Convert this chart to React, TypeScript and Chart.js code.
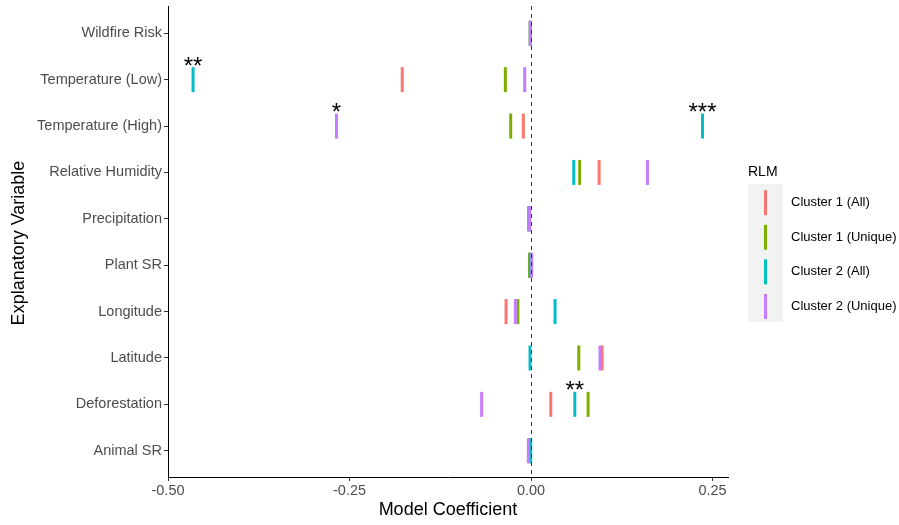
import React, { useEffect, useRef } from "react";
import { Chart, registerables } from "chart.js";

Chart.register(...registerables);

const categories = [
  "Wildfire Risk",
  "Temperature (Low)",
  "Temperature (High)",
  "Relative Humidity",
  "Precipitation",
  "Plant SR",
  "Longitude",
  "Latitude",
  "Deforestation",
  "Animal SR",
];

const seriesNames = ["Cluster 1 (All)", "Cluster 1 (Unique)", "Cluster 2 (All)", "Cluster 2 (Unique)"];
const seriesColors = ["#F8766D", "#7CAE00", "#00BFC4", "#C77CFF"];

const cluster1All = [-0.001, -0.1774, -0.0106, 0.0938, -0.003, -0.001, -0.0344, 0.0978, 0.0272, -0.002];
const cluster1Unique = [-0.001, -0.0354, -0.028, 0.067, -0.003, -0.002, -0.0181, 0.0658, 0.0786, -0.0014];
const cluster2All = [-0.001, -0.4655, 0.2362, 0.0589, -0.002, -0.001, 0.0331, -0.0014, 0.0603, -0.0005];
const cluster2Unique = [-0.001, -0.0087, -0.2679, 0.1604, -0.002, 0.001, -0.0216, 0.095, -0.068, -0.0037];

const sigCluster1All = ["", "", "", "", "", "", "", "", "", ""];
const sigCluster1Unique = ["", "", "", "", "", "", "", "", "", ""];
const sigCluster2All = ["", "**", "***", "", "", "", "", "", "**", ""];
const sigCluster2Unique = ["", "", "*", "", "", "", "", "", "", ""];

const xTicks = [-0.5, -0.25, 0, 0.25];
const xMin = -0.5;
const xMax = 0.2713;

const seriesValues = [cluster1All, cluster1Unique, cluster2All, cluster2Unique];
const seriesSig = [sigCluster1All, sigCluster1Unique, sigCluster2All, sigCluster2Unique];

const FONT = "'Liberation Sans', Arial, sans-serif";
const PLOT_TOP = 6;

const extrasPlugin = {
  id: "extras",
  afterLayout(chart: any) {
    const y = chart.scales.y;
    if (y && y.top !== PLOT_TOP) {
      y.top = PLOT_TOP;
      y.height = y.bottom - PLOT_TOP;
      y.configure();
      chart.chartArea.top = PLOT_TOP;
      chart.chartArea.height = chart.chartArea.bottom - PLOT_TOP;
    }
  },
  afterDatasetsDraw(chart: any) {
    const { ctx, chartArea, scales } = chart;
    const x0 = Math.round(scales.x.getPixelForValue(0)) + 0.5;
    ctx.save();
    ctx.strokeStyle = "#333333";
    ctx.lineWidth = 1;
    ctx.setLineDash([4, 4]);
    ctx.beginPath();
    ctx.moveTo(x0, chartArea.top);
    ctx.lineTo(x0, chartArea.bottom);
    ctx.stroke();
    ctx.setLineDash([]);
    ctx.fillStyle = "#000000";
    ctx.font = `24px ${FONT}`;
    ctx.textAlign = "center";
    ctx.textBaseline = "alphabetic";
    seriesSig.forEach((sigs, si) => {
      sigs.forEach((s, ci) => {
        if (!s) return;
        const px = scales.x.getPixelForValue(seriesValues[si][ci]);
        const py = scales.y.getPixelForValue(ci);
        ctx.fillText(s, px, py - 6);
      });
    });
    ctx.restore();
  },
  afterDraw(chart: any) {
    const { ctx, chartArea } = chart;
    ctx.save();
    ctx.fillStyle = "#000000";
    ctx.font = `18px ${FONT}`;
    ctx.textAlign = "center";
    ctx.textBaseline = "middle";
    ctx.fillText("Model Coefficient", (chartArea.left + chartArea.right) / 2, 510);
    ctx.save();
    ctx.translate(19, 243);
    ctx.rotate(-Math.PI / 2);
    ctx.fillText("Explanatory Variable", 0, 0);
    ctx.restore();
    ctx.textAlign = "left";
    ctx.font = `14px ${FONT}`;
    ctx.fillText("RLM", 748, 172);
    ctx.fillStyle = "#F2F2F2";
    ctx.fillRect(748, 184, 35, 138);
    ctx.font = `13px ${FONT}`;
    seriesNames.forEach((name, i) => {
      const cy = 202.7 + i * 34.6;
      ctx.strokeStyle = seriesColors[i];
      ctx.lineWidth = 3;
      ctx.beginPath();
      ctx.moveTo(765.5, cy - 12.5);
      ctx.lineTo(765.5, cy + 12.5);
      ctx.stroke();
      ctx.fillStyle = "#000000";
      ctx.fillText(name, 791, cy);
    });
    ctx.restore();
  },
};

export default function App() {
  const canvasRef = useRef<HTMLCanvasElement | null>(null);

  useEffect(() => {
    document.body.style.margin = "0";
    const canvas = canvasRef.current;
    if (!canvas) return;
    Chart.defaults.font.family = FONT;
    const datasets = seriesNames.map((name, si) => ({
      label: name,
      data: categories.map((_, ci) => ({ x: seriesValues[si][ci], y: ci })),
      borderColor: seriesColors[si],
      backgroundColor: seriesColors[si],
      pointStyle: "line",
      rotation: 90,
      pointRadius: 12.5,
      pointHoverRadius: 12.5,
      borderWidth: 3,
      order: 4 - si,
    }));
    const chart = new Chart(canvas, {
      type: "scatter",
      data: { datasets } as any,
      options: {
        animation: false,
        responsive: true,
        maintainAspectRatio: false,
        layout: { padding: { top: 6, right: 171, left: 0, bottom: 0 } },
        plugins: { legend: { display: false }, tooltip: { enabled: false } },
        events: [],
        scales: {
          x: {
            type: "linear",
            min: xMin,
            max: xMax,
            afterBuildTicks: (scale: any) => {
              scale.ticks = xTicks.map((v) => ({ value: v }));
            },
            afterFit: (scale: any) => {
              scale.height = 48;
            },
            ticks: {
              autoSkip: false,
              maxRotation: 0,
              color: "#4D4D4D",
              font: { size: 14.5 },
              padding: 1,
              callback: (v: any) => Number(v).toFixed(2),
            },
            grid: { drawOnChartArea: false, drawTicks: true, tickLength: 4, color: "#333333" },
            border: { color: "#000000", width: 1 },
          },
          y: {
            type: "linear",
            min: -0.589,
            max: 9.567,
            reverse: true,
            afterBuildTicks: (scale: any) => {
              scale.ticks = categories.map((_, i) => ({ value: i }));
            },
            afterFit: (scale: any) => {
              scale.width = 168;
            },
            ticks: {
              autoSkip: false,
              color: "#4D4D4D",
              font: { size: 14.5 },
              padding: 2,
              callback: (v: any) => categories[Number(v)] ?? "",
            },
            grid: { drawOnChartArea: false, drawTicks: true, tickLength: 4, color: "#333333" },
            border: { color: "#000000", width: 1 },
          },
        },
      },
      plugins: [extrasPlugin],
    } as any);
    return () => chart.destroy();
  }, []);

  return (
    <div style={{ position: "absolute", left: 0, top: 0, width: 899, height: 525 }}>
      <canvas ref={canvasRef} />
    </div>
  );
}
